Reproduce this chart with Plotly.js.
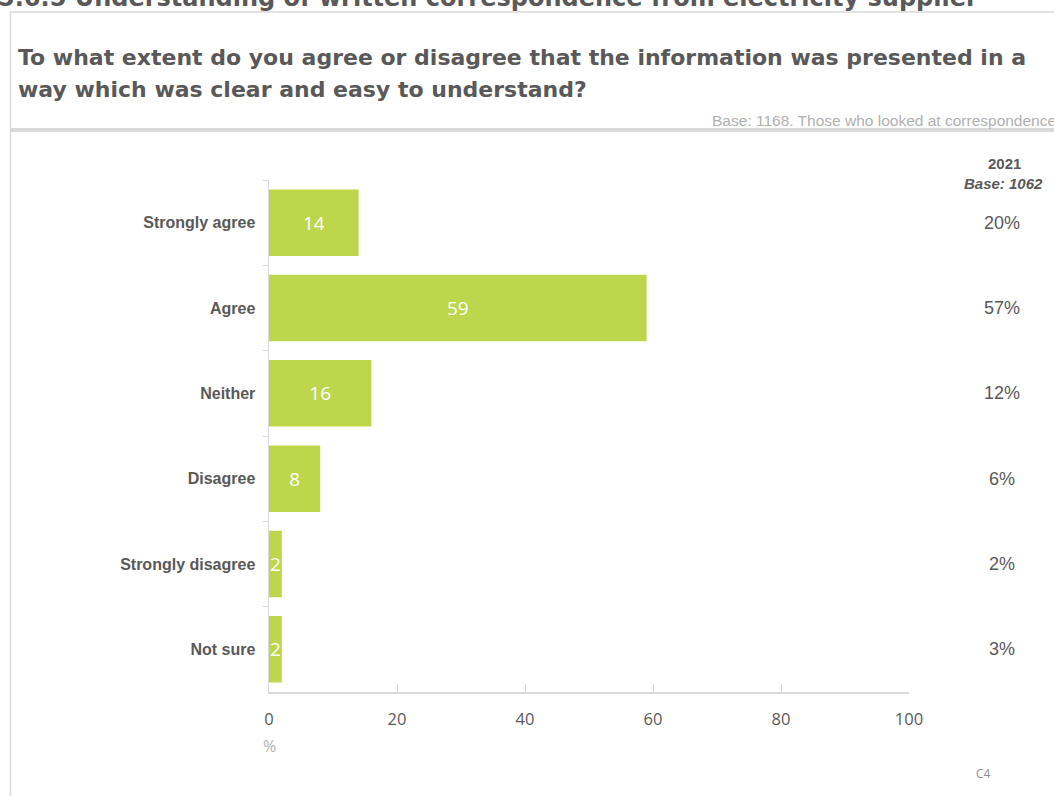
<!DOCTYPE html>
<html>
<head>
<meta charset="utf-8">
<script src="https://cdn.plot.ly/plotly-3.0.1.min.js"></script>
<style>html,body{margin:0;padding:0;background:#fff;overflow:hidden}#chart{width:1054px;height:796px}</style>
</head>
<body>
<div id="chart"></div>
<script>
const categories = ["Strongly agree", "Agree", "Neither", "Disagree", "Strongly disagree", "Not sure"];
const values2022 = [14, 59, 16, 8, 2, 2];
const labels2021 = ["20%", "57%", "12%", "6%", "2%", "3%"];
const xTicks = [0, 20, 40, 60, 80, 100];

const L = 269, R = 909, T = 180, B = 692, W = 1054, H = 796;
const px = x => (x - L) / (R - L);
const py = y => (B - y) / (B - T);

const annotations = [
  {text: "<b>5.6.5 Understanding of written correspondence from electricity supplier</b>", xref: "paper", yref: "paper",
   x: px(-4), y: py(-2), xanchor: "left", yanchor: "middle", showarrow: false,
   font: {family: "DejaVu Sans", size: 24, color: "#595959"}},
  {text: "<b>To what extent do you agree or disagree that the information was presented in a</b>", xref: "paper", yref: "paper",
   x: px(16), y: py(57), xanchor: "left", yanchor: "middle", showarrow: false,
   font: {family: "DejaVu Sans", size: 22, color: "#595959"}},
  {text: "<b>way which was clear and easy to understand?</b>", xref: "paper", yref: "paper",
   x: px(16), y: py(89), xanchor: "left", yanchor: "middle", showarrow: false,
   font: {family: "DejaVu Sans", size: 22, color: "#595959"}},
  {text: "Base: 1168. Those who looked at correspondence", xref: "paper", yref: "paper",
   x: px(1058), y: py(120), xanchor: "right", yanchor: "middle", showarrow: false,
   font: {family: "Liberation Sans", size: 15.5, color: "#b0b0b0"}},
  {text: "<b>2021</b>", xref: "paper", yref: "paper", x: px(1004), y: py(163), xanchor: "center", yanchor: "middle",
   showarrow: false, font: {family: "Liberation Sans", size: 15, color: "#595959"}},
  {text: "<b><i>Base: 1062</i></b>", xref: "paper", yref: "paper", x: px(1003), y: py(183), xanchor: "center", yanchor: "middle",
   showarrow: false, font: {family: "Liberation Sans", size: 15, color: "#595959"}},
  {text: "%", xref: "paper", yref: "paper", x: px(269), y: py(746), xanchor: "center", yanchor: "middle",
   showarrow: false, font: {family: "Open Sans", size: 16, color: "#b0b0b0"}},
  {text: "C4", xref: "paper", yref: "paper", x: px(983), y: py(773), xanchor: "center", yanchor: "middle",
   showarrow: false, font: {family: "Open Sans", size: 12, color: "#909090"}}
];
categories.forEach((c, i) => {
  annotations.push({text: labels2021[i], xref: "paper", yref: "y", x: px(1002), y: c, xanchor: "center", yanchor: "middle",
    showarrow: false, font: {family: "Liberation Sans", size: 18, color: "#595959"}});
});

const shapes = [
  {type: "line", xref: "paper", yref: "paper", x0: px(10.5), x1: px(10.5), y0: py(12), y1: py(800), line: {color: "#d9d9d9", width: 1.5}},
  {type: "line", xref: "paper", yref: "paper", x0: px(10), x1: px(1060), y0: py(12), y1: py(12), line: {color: "#d9d9d9", width: 1.5}},
  {type: "line", xref: "paper", yref: "paper", x0: px(10), x1: px(1060), y0: py(130), y1: py(130), line: {color: "#d9d9d9", width: 4}}
];

const trace = {
  type: "bar", orientation: "h", y: categories, x: values2022,
  text: values2022.map(String), textposition: "inside", insidetextanchor: "middle", constraintext: "none",
  textfont: {family: "Open Sans", size: 19, color: "#ffffff"},
  marker: {color: "#bdd64b"}, hoverinfo: "none", cliponaxis: false
};

const layout = {
  width: W, height: H,
  margin: {l: L, r: W - R, t: T, b: H - B, pad: 0},
  paper_bgcolor: "#ffffff", plot_bgcolor: "#ffffff",
  showlegend: false, bargap: 0.22,
  xaxis: {range: [0, 100], tickvals: xTicks, ticktext: xTicks.map(String), showgrid: false, zeroline: false,
    showline: true, linecolor: "#d9d9d9", linewidth: 2, ticks: "inside", ticklen: 8, tickcolor: "#d9d9d9",
    ticklabelstandoff: 11, tickfont: {family: "Open Sans", size: 16.5, color: "#595959"}, fixedrange: true},
  yaxis: {autorange: "reversed", type: "category", showgrid: false, showline: true, linecolor: "#d9d9d9", linewidth: 1.5,
    ticks: "outside", tickson: "boundaries", ticklen: 5, tickcolor: "#d9d9d9", ticklabelstandoff: 9,
    tickfont: {family: "Liberation Sans", size: 16, color: "#595959", weight: "bold"}, fixedrange: true},
  annotations: annotations, shapes: shapes
};

Plotly.newPlot("chart", [trace], layout, {displayModeBar: false, staticPlot: true});
</script>
</body>
</html>
